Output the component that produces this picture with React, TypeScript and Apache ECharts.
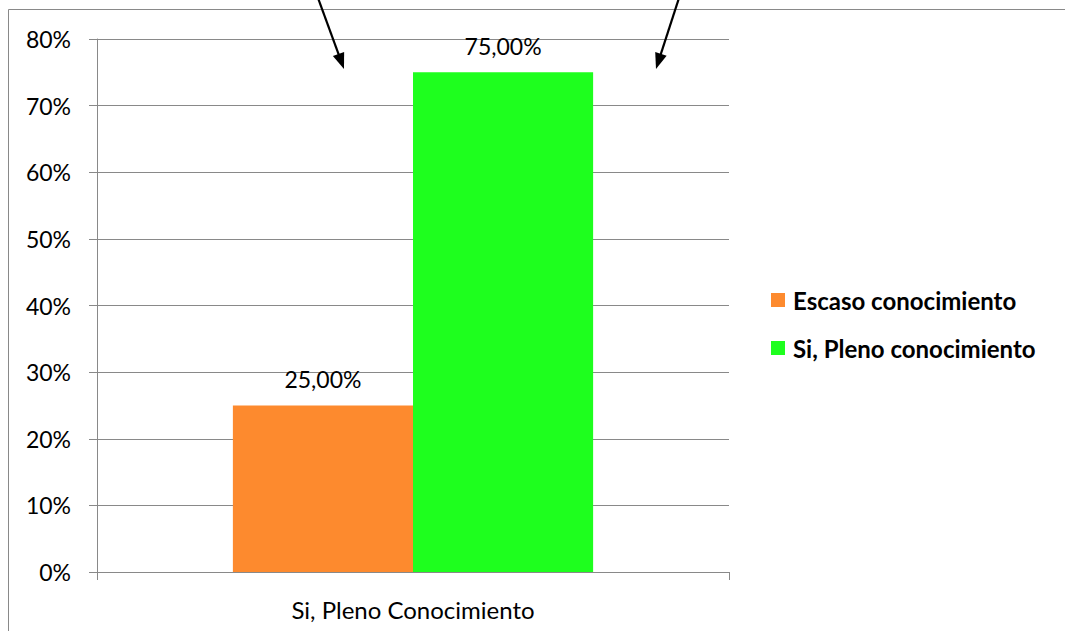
import React, { useEffect, useRef } from "react";
import * as echarts from "echarts";

const categories = ["Si, Pleno Conocimiento"];
const seriesNames = ["Escaso conocimiento", "Si, Pleno conocimiento"];
const escasoValues = [0.25];
const plenoValues = [0.75];
const seriesColors = ["#FD8A2E", "#1EFF1E"];
const yTicks = { min: 0, max: 0.8, interval: 0.1 };

const FONT = "Lato, 'Noto Sans', sans-serif";
const GRID_COLOR = "#898989";

const pct = (v: number) => `${Math.round(v * 100)}%`;
const pctLabel = (v: number) => `${(v * 100).toFixed(2).replace(".", ",")}%`;

// Arrow annotations above the plot: a shaft plus a filled head
function arrow(x1: number, y1: number, x2: number, y2: number) {
  const dx = x2 - x1;
  const dy = y2 - y1;
  const len = Math.hypot(dx, dy);
  const ux = dx / len;
  const uy = dy / len;
  const headLen = 16;
  const half = 6;
  const bx = x2 - ux * headLen;
  const by = y2 - uy * headLen;
  return [
    {
      type: "line",
      shape: { x1, y1, x2: bx + ux * 2, y2: by + uy * 2 },
      style: { stroke: "#000", lineWidth: 2.2 },
      z: 100,
    },
    {
      type: "polygon",
      shape: {
        points: [
          [x2, y2],
          [bx - uy * half, by + ux * half],
          [bx + uy * half, by - ux * half],
        ],
      },
      style: { fill: "#000" },
      z: 100,
    },
  ];
}

export default function App() {
  const ref = useRef<HTMLDivElement>(null);

  useEffect(() => {
    if (!ref.current) return;
    const chart = echarts.init(ref.current, undefined, { renderer: "svg" });

    const makeSeries = (name: string, data: number[], color: string) => ({
      name,
      type: "bar",
      data,
      barGap: "0%",
      barCategoryGap: "43%",
      itemStyle: { color },
      label: {
        show: true,
        position: "top",
        distance: 15,
        color: "#000",
        fontFamily: FONT,
        fontSize: 23,
        formatter: (p: any) => pctLabel(p.value),
      },
    });

    chart.setOption({
      animation: false,
      backgroundColor: "#fff",
      textStyle: { fontFamily: FONT },
      grid: { left: 97, right: 336, top: 39, bottom: 59, containLabel: false },
      legend: {
        orient: "vertical",
        left: 771,
        top: 288,
        padding: 0,
        itemWidth: 14,
        itemHeight: 14,
        itemGap: 24,
        icon: "rect",
        data: seriesNames,
        textStyle: {
          fontFamily: FONT,
          fontWeight: "bold",
          fontSize: 24,
          color: "#000",
          padding: [0, 0, 0, 3],
        },
      },
      xAxis: {
        type: "category",
        data: categories,
        axisLine: { lineStyle: { color: GRID_COLOR, width: 1 } },
        axisTick: { show: true, length: 8, lineStyle: { color: GRID_COLOR } },
        axisLabel: {
          color: "#000",
          fontFamily: FONT,
          fontSize: 24,
          margin: 25,
        },
      },
      yAxis: {
        type: "value",
        min: yTicks.min,
        max: yTicks.max,
        interval: yTicks.interval,
        axisLine: { show: true, lineStyle: { color: GRID_COLOR, width: 1 } },
        axisTick: { show: true, length: 8, lineStyle: { color: GRID_COLOR } },
        splitLine: { lineStyle: { color: GRID_COLOR, width: 1 } },
        axisLabel: {
          color: "#000",
          fontFamily: FONT,
          fontSize: 23,
          margin: 26,
          formatter: (v: number) => pct(v),
        },
      },
      series: [
        makeSeries(seriesNames[0], escasoValues, seriesColors[0]),
        makeSeries(seriesNames[1], plenoValues, seriesColors[1]),
      ],
      graphic: [
        {
          type: "rect",
          shape: { x: 8.5, y: 9.5, width: 1100, height: 700 },
          style: { fill: "none", stroke: GRID_COLOR, lineWidth: 1 },
          silent: true,
          z: -1,
        },
        ...arrow(318, -2, 344, 69),
        ...arrow(679, -2, 656, 69),
      ],
    });

    return () => chart.dispose();
  }, []);

  return (
    <div
      ref={ref}
      style={{ position: "fixed", left: 0, top: 0, width: 1065, height: 631 }}
    />
  );
}
